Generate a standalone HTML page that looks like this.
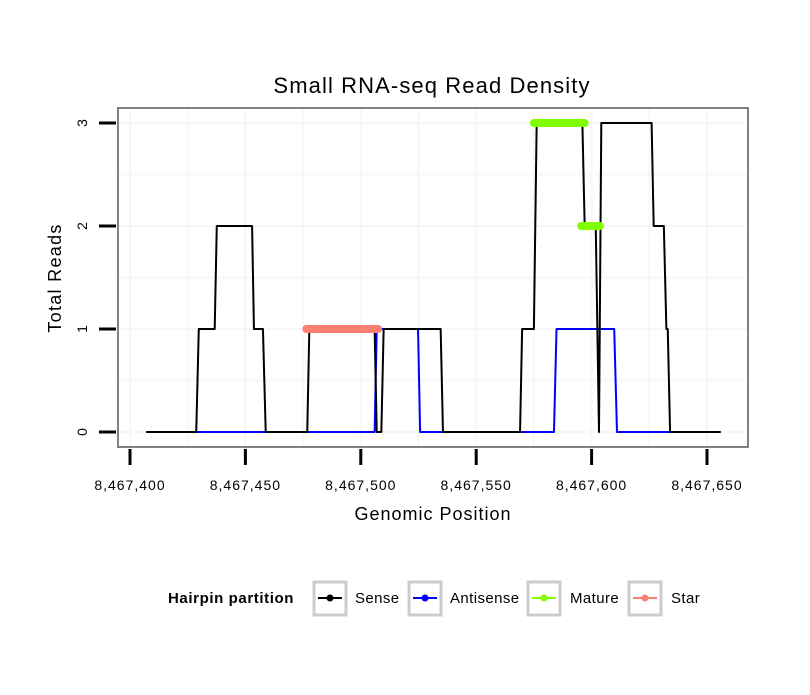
<!DOCTYPE html>
<html><head><meta charset="utf-8"><style>
body{margin:0;background:#fff;}
svg text{font-family:"Liberation Sans",sans-serif;}
</style></head><body>
<svg id="chart" width="810" height="690" xmlns="http://www.w3.org/2000/svg">
<text x="432" y="93" font-size="22" letter-spacing="1.1" text-anchor="middle">Small RNA-seq Read Density</text>
<rect x="118" y="108" width="630" height="339" fill="#fff" stroke="#808080" stroke-width="2"/>
<g id="grid"></g>
<g id="series"></g>
<g id="axes"></g>
<text x="433" y="520" font-size="18" letter-spacing="1" text-anchor="middle">Genomic Position</text>
<text transform="translate(61,278) rotate(-90)" font-size="18" letter-spacing="1.3" text-anchor="middle">Total Reads</text>
<g>
<text x="168" y="603" font-size="15" letter-spacing="0.6" font-weight="bold">Hairpin partition</text>
<g><rect x="314" y="582" width="32" height="33" fill="#fff" stroke="#ccc" stroke-width="3"/><line x1="318" y1="598" x2="342" y2="598" stroke="#000" stroke-width="2"/><circle cx="330" cy="598" r="3.5" fill="#000"/><text x="355" y="603" font-size="15" letter-spacing="0.4">Sense</text></g>
<g><rect x="409" y="582" width="32" height="33" fill="#fff" stroke="#ccc" stroke-width="3"/><line x1="413" y1="598" x2="437" y2="598" stroke="#0000ff" stroke-width="2"/><circle cx="425" cy="598" r="3.5" fill="#0000ff"/><text x="450" y="603" font-size="15" letter-spacing="0.4">Antisense</text></g>
<g><rect x="528" y="582" width="32" height="33" fill="#fff" stroke="#ccc" stroke-width="3"/><line x1="532" y1="598" x2="556" y2="598" stroke="#7fff00" stroke-width="2"/><circle cx="544" cy="598" r="3.5" fill="#7fff00"/><text x="570" y="603" font-size="15" letter-spacing="0.4">Mature</text></g>
<g><rect x="629" y="582" width="32" height="33" fill="#fff" stroke="#ccc" stroke-width="3"/><line x1="633" y1="598" x2="657" y2="598" stroke="#fa8072" stroke-width="2"/><circle cx="645" cy="598" r="3.5" fill="#fa8072"/><text x="671" y="603" font-size="15" letter-spacing="0.4">Star</text></g>
</g>
</svg>
<script>
const base = 8467400;
const xTicks = [8467400, 8467450, 8467500, 8467550, 8467600, 8467650];
const xTickLabels = ["8,467,400","8,467,450","8,467,500","8,467,550","8,467,600","8,467,650"];
const yTicks = [0, 1, 2, 3];
const senseX = [7,28.7,29.8,36.7,37.6,52.9,53.7,57.6,58.8,76.8,77.7,106,106.9,108.9,109.9,134.6,135.6,169,169.9,175,176.2,196,197,201.8,203.2,204.2,226,226.9,231.3,232.4,233,234,256];
const senseY = [0,0,1,1,2,2,1,1,0,0,1,1,0,0,1,1,0,0,1,1,3,3,2,2,0,3,3,2,2,1,1,0,0];
const antiX = [7,106,106.9,124.8,125.7,183.7,184.8,209.8,211,234];
const antiY = [0,0,1,1,0,0,1,1,0,0];
const matureX1 = [175,197], matureY1 = [3,3];
const matureX2 = [195.5,203.6], matureY2 = [2,2];
const starX = [76.4,107.5], starY = [1,1];

const NS="http://www.w3.org/2000/svg";
const sx = v => 130 + (v) * (577/250);
const sxAbs = v => sx(v - base);
const sy = v => 432 - v * 103;
function mk(tag, attrs, parent){const e=document.createElementNS(NS,tag);for(const k in attrs)e.setAttribute(k,attrs[k]);document.getElementById(parent).appendChild(e);return e;}
[-25,0,25,50,75,100,125,150,175,200,225,250,275].forEach(v=>{const x=sx(v);if(x>119&&x<747){const l=mk('line',{x1:x,x2:x,y1:109,y2:446,stroke:'#f7f7f7','stroke-width':2},'grid');}});
[0,0.5,1,1.5,2,2.5,3].forEach(v=>{const y=sy(v);const l=mk('line',{x1:119,x2:747,y1:y,y2:y,stroke:'#f7f7f7','stroke-width':2},'grid');});
function line(xs,ys,color,w,name,cap){const pts=xs.map((x,i)=>sx(x)+','+sy(ys[i])).join(' ');const p=mk('polyline',{points:pts,fill:'none',stroke:color,'stroke-width':w,'stroke-linecap':cap,'stroke-linejoin':'round'},'series');}
line(antiX,antiY,'#0000ff',2,'antisense-line','butt');
line(senseX,senseY,'#000',2,'sense-line','butt');
line(starX,starY,'#fa8072',8,'star-segment','round');
line(matureX1,matureY1,'#7fff00',8,'mature-segment','round');
line(matureX2,matureY2,'#7fff00',8,'mature-segment','round');
xTicks.forEach((t,i)=>{const x=sxAbs(t);const l=mk('line',{x1:x,x2:x,y1:449,y2:465,stroke:'#000','stroke-width':3},'axes');const tx=mk('text',{x:x,y:490,'font-size':14,'letter-spacing':1,'text-anchor':'middle'},'axes');tx.textContent=xTickLabels[i];});
yTicks.forEach(t=>{const y=sy(t);const l=mk('line',{x1:99,x2:116,y1:y,y2:y,stroke:'#000','stroke-width':3},'axes');const tx=mk('text',{transform:'translate(87,'+y+') rotate(-90)','font-size':14,'text-anchor':'middle'},'axes');tx.textContent=String(t);});
</script>
</body></html>
